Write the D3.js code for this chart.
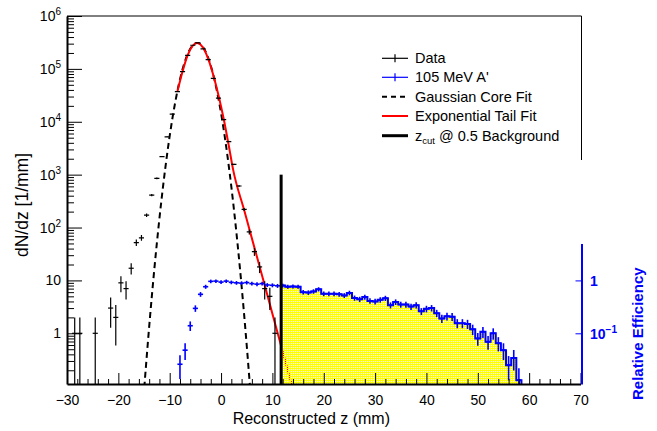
<!DOCTYPE html>
<html>
<head>
<meta charset="utf-8">
<script src="https://cdn.jsdelivr.net/npm/d3@7/dist/d3.min.js"></script>
<style>
  body { margin: 0; background: #fff; }
  text { font-family: "Liberation Sans", Arial, Helvetica, sans-serif; }
</style>
</head>
<body>
<svg id="chart" width="657" height="431"></svg>
<script>
// ---- data ----
// reconstructed z, 1 mm bins: bin centre and entries
let dataZ = [-28.5, -27.5, -24.5, -21.5, -20.5, -19.5, -18.5, -17.5, -16.5, -15.5, -14.5, -13.5,
    -12.5, -11.5, -10.5, -9.5, -8.5, -7.5, -6.5, -5.5, -4.5, -3.5, -2.5, -1.5, -0.5,
    0.5, 1.5, 2.5, 3.5, 4.5, 5.5, 6.5, 7.5, 8.5, 9.5, 10.5];
let dataN = [1, 1, 1, 3, 2, 9, 7, 17, 52, 64, 172, 410,
    850, 2200, 5200, 14000, 37000, 89000, 180000, 280000, 310000, 240000, 150000, 66000, 28000,
    11000, 4200, 1560, 610, 220, 83, 35, 18, 7, 5, 1];

// 105 MeV A' relative efficiency, bins centred on integer z
let signalZ = d3.range(-8, 59);
let relEff = [0.026, 0.048, 0.139, 0.296, 0.546, 0.76, 0.96, 0.97, 0.93, 0.97,
    0.92, 0.90, 0.89, 0.91, 0.87, 0.85, 0.87, 0.82, 0.81, 0.79,
    0.80, 0.76, 0.77, 0.76, 0.60, 0.59, 0.62, 0.68, 0.56, 0.56,
    0.56, 0.55, 0.52, 0.58, 0.465, 0.44, 0.485, 0.41, 0.40, 0.43,
    0.46, 0.34, 0.39, 0.35, 0.35, 0.32, 0.34, 0.26, 0.29, 0.30,
    0.24, 0.19, 0.21, 0.206, 0.155, 0.155, 0.15, 0.119, 0.08, 0.107,
    0.069, 0.10, 0.065, 0.048, 0.025, 0.034, 0.013];
let signalEvents = 170;   // approx. events per unit efficiency (sets error bar size)

// Gaussian core fit
let gausAmp = 3.1e5, gausMean = -4.65, gausSigma = 1.88;

// exponential tail fit curve
let tailZ = [-8.5, -7.5, -6.5, -5.5, -4.66, -3.5, -2.5, -1.5, -0.5, 0.5, 1.5, 2.36, 4.5, 6.5, 8.5, 10.5, 11.74, 13.9];
let tailV = [37150, 89100, 182000, 275400, 309000, 251200, 154900, 75900, 31600, 11500, 3550, 1230,
    214, 41.7, 8.1, 1.55, 0.56, 0.095];

let zCut = 11.7, zCutTop = 1000;

let legendLabels = ["Data", "105 MeV A'", "Gaussian Core Fit", "Exponential Tail Fit", "z_cut @ 0.5 Background"];

// ---- layout ----
let frame = {left: 67, right: 580.5, top: 16, bottom: 384};
let yMin = 0.11, yMax = 1e6;

let svg = d3.select("#chart");

let x = d3.scaleLinear().domain([-30, 70]).range([frame.left, frame.right]);
let y = d3.scaleLog().domain([yMin, yMax]).range([frame.bottom, frame.top]);
// efficiency shares the pixel scale, 1 efficiency <-> 10 entries
let y2 = d3.scaleLog().domain([yMin / 10, yMax / 10]).range([frame.bottom, frame.top]);

svg.append("defs").append("clipPath")
    .attr("id", "plotArea")
    .append("rect")
    .attr("x", frame.left).attr("y", frame.top)
    .attr("width", frame.right - frame.left).attr("height", frame.bottom - frame.top);

let pat = svg.select("defs").append("pattern")
    .attr("id", "yellowHatch")
    .attr("patternUnits", "userSpaceOnUse")
    .attr("width", 2).attr("height", 2);
pat.append("rect").attr("x", 0).attr("y", 0).attr("width", 2).attr("height", 1).attr("fill", "#ffff00");
pat.append("rect").attr("x", 0).attr("y", 1).attr("width", 1).attr("height", 1).attr("fill", "#ffff00");

let plot = svg.append("g").attr("clip-path", "url(#plotArea)");

// ---- signal region fill (z > zCut) ----
let cutBins = signalZ.map((z, i) => ({z: z, v: relEff[i]})).filter(d => d.z + 0.5 > zCut);
let stepPts = [[x(zCut), frame.bottom]];
cutBins.forEach(function(d) {
    let lo = Math.max(d.z - 0.5, zCut);
    stepPts.push([x(lo), y2(d.v)]);
    stepPts.push([x(d.z + 0.5), y2(d.v)]);
});
stepPts.push([x(cutBins[cutBins.length - 1].z + 0.5), frame.bottom]);

// ---- Gaussian core (dashed) ----
let gausPts = d3.range(-17, 8, 0.1).map(z => [z, gausAmp * Math.exp(-0.5 * Math.pow((z - gausMean) / gausSigma, 2))]);
plot.append("path")
    .datum(gausPts.filter(d => d[1] > 0.05))
    .attr("fill", "none")
    .attr("stroke", "#000")
    .attr("stroke-width", 2)
    .attr("stroke-dasharray", "6,4")
    .attr("d", d3.line().x(d => x(d[0])).y(d => y(Math.max(d[1], 0.05))));

// ---- exponential tail fit (red) ----
plot.append("path")
    .datum(tailZ.map((z, i) => [z, tailV[i]]))
    .attr("fill", "none")
    .attr("stroke", "#ff0000")
    .attr("stroke-width", 2)
    .attr("d", d3.line().curve(d3.curveMonotoneX).x(d => x(d[0])).y(d => y(d[1])));

plot.append("path")
    .datum(stepPts)
    .attr("fill", "url(#yellowHatch)")
    .attr("stroke", "none")
    .attr("d", d3.line());

// ---- data crosses ----
let dataG = plot.append("g").attr("stroke", "#000").attr("stroke-width", 1.2);
dataZ.forEach(function(z, i) {
    let n = dataN[i], err = Math.sqrt(n);
    dataG.append("line")
        .attr("x1", x(z - 0.5)).attr("x2", x(z + 0.5))
        .attr("y1", y(n)).attr("y2", y(n));
    dataG.append("line")
        .attr("x1", x(z)).attr("x2", x(z))
        .attr("y1", y(n + err))
        .attr("y2", n - err > yMin ? y(n - err) : frame.bottom + 2);
});

// ---- signal crosses ----
let sigG = plot.append("g").attr("stroke", "#0000ff").attr("stroke-width", 1.6);
signalZ.forEach(function(z, i) {
    let v = relEff[i], err = Math.sqrt(v * signalEvents) / signalEvents;
    sigG.append("line")
        .attr("x1", x(z - 0.5)).attr("x2", x(z + 0.5))
        .attr("y1", y2(v)).attr("y2", y2(v));
    sigG.append("line")
        .attr("x1", x(z)).attr("x2", x(z))
        .attr("y1", y2(v + err))
        .attr("y2", v - err > yMin / 10 ? y2(v - err) : frame.bottom + 2);
});

// outline of signal region
plot.append("path")
    .datum(stepPts)
    .attr("fill", "none")
    .attr("stroke", "#0000ff")
    .attr("stroke-width", 2)
    .attr("d", d3.line());

// ---- z cut line ----
svg.append("line")
    .attr("x1", x(zCut)).attr("x2", x(zCut))
    .attr("y1", y(zCutTop)).attr("y2", frame.bottom)
    .attr("stroke", "#000")
    .attr("stroke-width", 3);

// ---- axes ----
let xMajor = d3.range(-30, 71, 10);
let xMinor = d3.range(-30, 71, 2).filter(v => v % 10 !== 0);

svg.append("g")
    .attr("transform", "translate(0," + frame.bottom + ")")
    .call(d3.axisBottom(x).tickValues(xMinor).tickSize(-5).tickSizeOuter(0).tickFormat(""))
    .call(g => g.select(".domain").remove());
let xAxis = svg.append("g")
    .attr("transform", "translate(0," + frame.bottom + ")")
    .call(d3.axisBottom(x).tickValues(xMajor).tickSize(-11).tickSizeOuter(0)
        .tickFormat(d => d < 0 ? "\u2212" + Math.abs(d) : d));
xAxis.select(".domain").attr("stroke-width", 2);
xAxis.selectAll(".tick text")
    .attr("y", 21)
    .attr("dy", 0)
    .style("font-size", "14px")
    .attr("fill", "#000");

let yMajor = d3.range(0, 7).map(k => Math.pow(10, k));
let yMinorTicks = [];
for (let k = -1; k < 6; k++) {
    for (let m = 2; m < 10; m++) {
        let v = m * Math.pow(10, k);
        if (v >= yMin && v <= yMax) yMinorTicks.push(v);
    }
}
svg.append("g")
    .attr("transform", "translate(" + frame.left + ",0)")
    .call(d3.axisLeft(y).tickValues(yMinorTicks).tickSize(-7).tickSizeOuter(0).tickFormat(""))
    .call(g => g.select(".domain").remove());
let yAxis = svg.append("g")
    .attr("transform", "translate(" + frame.left + ",0)")
    .call(d3.axisLeft(y).tickValues(yMajor).tickSize(-15).tickSizeOuter(0).tickFormat(""));
yAxis.select(".domain").attr("stroke-width", 2);

// log labels with superscripts
yMajor.forEach(function(v) {
    let k = Math.round(Math.log10(v));
    let t = svg.append("text")
        .attr("x", 61)
        .attr("y", y(v) + 5)
        .attr("text-anchor", "end")
        .style("font-size", "14px");
    if (k === 0) {
        t.text("1");
    } else if (k === 1) {
        t.text("10");
    } else {
        t.append("tspan").text("10");
        t.append("tspan").attr("dy", -6).style("font-size", "10px").text(k);
    }
});

// frame top / right
svg.append("line")
    .attr("x1", frame.left).attr("x2", frame.right + 1)
    .attr("y1", frame.top).attr("y2", frame.top)
    .attr("stroke", "#000").attr("stroke-width", 1);
svg.append("line")
    .attr("x1", frame.right + 1).attr("x2", frame.right + 1)
    .attr("y1", frame.top).attr("y2", 160)
    .attr("stroke", "#000").attr("stroke-width", 1);

// right efficiency axis
let effMin = yMin / 10, effMax = 5;
let yEff = d3.scaleLog().domain([effMin, effMax]).range([y2(effMin), y2(effMax)]);
let effMinorTicks = [0.02, 0.03, 0.04, 0.05, 0.06, 0.07, 0.08, 0.09, 0.2, 0.3, 0.4, 0.5, 0.6, 0.7, 0.8, 0.9, 2, 3, 4, 5];
let effAxisG = svg.append("g").attr("transform", "translate(" + (frame.right + 1) + ",0)");
effAxisG.call(d3.axisRight(yEff).tickValues(effMinorTicks).tickSize(-3).tickSizeOuter(0).tickFormat(""));
effAxisG.call(d3.axisRight(yEff).tickValues([0.1, 1]).tickSize(-6).tickSizeOuter(0).tickFormat(""));
effAxisG.selectAll("path, line").attr("stroke", "#0000ff");
effAxisG.selectAll(".domain").attr("stroke-width", 2);

svg.append("text")
    .attr("x", 590).attr("y", yEff(1) + 6)
    .attr("fill", "#0000ff")
    .style("font-size", "14px").style("font-weight", "bold")
    .text("1");
let tenth = svg.append("text")
    .attr("x", 590).attr("y", yEff(0.1) + 6)
    .attr("fill", "#0000ff")
    .style("font-size", "14px").style("font-weight", "bold");
tenth.append("tspan").text("10");
tenth.append("tspan").attr("dy", -6).style("font-size", "10px").text("\u22121");

// axis titles
svg.append("text")
    .attr("x", 390).attr("y", 424)
    .attr("text-anchor", "end")
    .style("font-size", "16px")
    .text("Reconstructed z (mm)");

svg.append("text")
    .attr("transform", "translate(28,257) rotate(-90)")
    .attr("text-anchor", "start")
    .style("font-size", "17.5px")
    .text("dN/dz [1/mm]");

svg.append("text")
    .attr("transform", "translate(643,400) rotate(-90)")
    .attr("text-anchor", "start")
    .attr("fill", "#0000ff")
    .style("font-size", "15px").style("font-weight", "bold")
    .text("Relative Efficiency");

// ---- legend ----
let legRows = [58.3, 77.3, 96.7, 116, 135.7];
let leg = svg.append("g");
let lx1 = 382, lx2 = 408;
// Data
leg.append("line").attr("x1", lx1).attr("x2", lx2).attr("y1", legRows[0]).attr("y2", legRows[0]).attr("stroke", "#000").attr("stroke-width", 1.2);
leg.append("line").attr("x1", (lx1 + lx2) / 2).attr("x2", (lx1 + lx2) / 2).attr("y1", legRows[0] - 4).attr("y2", legRows[0] + 4).attr("stroke", "#000").attr("stroke-width", 1.2);
// signal
leg.append("line").attr("x1", lx1).attr("x2", lx2).attr("y1", legRows[1]).attr("y2", legRows[1]).attr("stroke", "#0000ff").attr("stroke-width", 1.2);
leg.append("line").attr("x1", (lx1 + lx2) / 2).attr("x2", (lx1 + lx2) / 2).attr("y1", legRows[1] - 4).attr("y2", legRows[1] + 4).attr("stroke", "#0000ff").attr("stroke-width", 1.2);
// gaussian
leg.append("line").attr("x1", lx1).attr("x2", lx2).attr("y1", legRows[2]).attr("y2", legRows[2]).attr("stroke", "#000").attr("stroke-width", 2).attr("stroke-dasharray", "5,4");
// tail
leg.append("line").attr("x1", lx1).attr("x2", lx2).attr("y1", legRows[3]).attr("y2", legRows[3]).attr("stroke", "#ff0000").attr("stroke-width", 2);
// cut
leg.append("line").attr("x1", lx1).attr("x2", lx2).attr("y1", legRows[4]).attr("y2", legRows[4]).attr("stroke", "#000").attr("stroke-width", 3);

legendLabels.forEach(function(label, i) {
    let t = leg.append("text")
        .attr("x", 415).attr("y", legRows[i] + 5)
        .style("font-size", "14.5px");
    if (label.indexOf("z_cut") === 0) {
        t.append("tspan").text("z");
        t.append("tspan").attr("dy", 3).style("font-size", "9.5px").text("cut");
        t.append("tspan").attr("dy", -3).text(label.slice(5));
    } else {
        t.text(label);
    }
});
</script>
</body>
</html>
